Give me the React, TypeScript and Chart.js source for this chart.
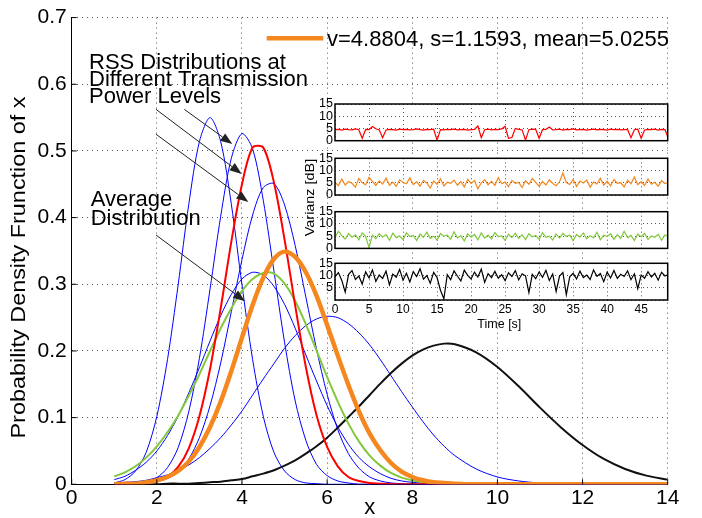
import React, { useEffect, useRef } from "react";
import { Chart, registerables } from "chart.js";

Chart.register(...registerables);

const FONT = '"Liberation Sans", Arial, Helvetica, sans-serif';
Chart.defaults.font.family = FONT;
Chart.defaults.color = "#000";

// ---------- main chart data (x grid and PDF values) ----------
const X_VALUES = [1, 1.25, 1.5, 1.75, 2, 2.25, 2.5, 2.75, 3, 3.25, 3.5, 3.75, 4, 4.25, 4.5, 4.75, 5, 5.25, 5.5, 5.75, 6, 6.25, 6.5, 6.75, 7, 7.25, 7.5, 7.75, 8, 8.25, 8.5, 8.75, 9, 9.5, 10, 10.5, 11, 11.5, 12, 12.5, 13, 13.5, 14];

const PDF_BLUE_1 = [0.002, 0.007, 0.02, 0.048, 0.102, 0.187, 0.299, 0.42, 0.514, 0.55, 0.514, 0.42, 0.299, 0.187, 0.102, 0.048, 0.02, 0.007, 0.002, 0.001, 0, 0, 0, 0, 0, 0, 0, 0, 0, 0, 0, 0, 0, 0, 0, 0, 0, 0, 0, 0, 0, 0, 0];
const PDF_BLUE_2 = [0, 0, 0.001, 0.004, 0.01, 0.025, 0.055, 0.109, 0.189, 0.293, 0.402, 0.489, 0.526, 0.503, 0.426, 0.32, 0.213, 0.125, 0.066, 0.03, 0.013, 0.005, 0.002, 0, 0, 0, 0, 0, 0, 0, 0, 0, 0, 0, 0, 0, 0, 0, 0, 0, 0, 0, 0];
const PDF_RED = [0, 0, 0.001, 0.002, 0.004, 0.011, 0.026, 0.054, 0.102, 0.173, 0.264, 0.364, 0.45, 0.505, 0.505, 0.453, 0.367, 0.268, 0.176, 0.104, 0.056, 0.027, 0.011, 0.005, 0.002, 0.001, 0, 0, 0, 0, 0, 0, 0, 0, 0, 0, 0, 0, 0, 0, 0, 0, 0];
const PDF_BLUE_3 = [0, 0, 0.001, 0.002, 0.004, 0.009, 0.019, 0.038, 0.07, 0.118, 0.182, 0.259, 0.337, 0.404, 0.445, 0.451, 0.419, 0.358, 0.281, 0.203, 0.135, 0.082, 0.046, 0.024, 0.011, 0.005, 0.002, 0.001, 0, 0, 0, 0, 0, 0, 0, 0, 0, 0, 0, 0, 0, 0, 0];
const PDF_BLUE_4 = [0.007, 0.012, 0.021, 0.033, 0.05, 0.073, 0.102, 0.137, 0.175, 0.215, 0.253, 0.285, 0.308, 0.318, 0.314, 0.297, 0.27, 0.234, 0.194, 0.155, 0.118, 0.086, 0.06, 0.04, 0.026, 0.016, 0.009, 0.005, 0.003, 0.002, 0.001, 0, 0, 0, 0, 0, 0, 0, 0, 0, 0, 0, 0];
const PDF_GREEN = [0.012, 0.018, 0.027, 0.04, 0.057, 0.078, 0.103, 0.133, 0.165, 0.2, 0.234, 0.264, 0.29, 0.308, 0.317, 0.316, 0.301, 0.275, 0.24, 0.201, 0.161, 0.124, 0.091, 0.064, 0.043, 0.028, 0.017, 0.01, 0.006, 0.003, 0.002, 0.001, 0, 0, 0, 0, 0, 0, 0, 0, 0, 0, 0];
const PDF_ORANGE = [0, 0.001, 0.001, 0.003, 0.006, 0.011, 0.02, 0.034, 0.056, 0.086, 0.124, 0.17, 0.22, 0.269, 0.31, 0.338, 0.349, 0.341, 0.318, 0.283, 0.239, 0.193, 0.149, 0.109, 0.076, 0.051, 0.032, 0.019, 0.011, 0.006, 0.003, 0.002, 0.001, 0, 0, 0, 0, 0, 0, 0, 0, 0, 0];
const PDF_BLUE_5 = [0.002, 0.003, 0.004, 0.006, 0.01, 0.014, 0.021, 0.029, 0.04, 0.054, 0.07, 0.089, 0.11, 0.134, 0.158, 0.181, 0.204, 0.223, 0.238, 0.248, 0.252, 0.25, 0.241, 0.227, 0.209, 0.187, 0.163, 0.139, 0.116, 0.094, 0.074, 0.057, 0.043, 0.023, 0.011, 0.005, 0.002, 0.001, 0, 0, 0, 0, 0];
const PDF_BLACK = [0, 0, 0, 0, 0, 0.001, 0.001, 0.001, 0.002, 0.003, 0.004, 0.006, 0.008, 0.012, 0.016, 0.021, 0.028, 0.036, 0.046, 0.057, 0.07, 0.085, 0.101, 0.117, 0.134, 0.151, 0.167, 0.181, 0.193, 0.202, 0.208, 0.211, 0.21, 0.198, 0.176, 0.147, 0.115, 0.085, 0.059, 0.038, 0.023, 0.013, 0.007];

const LEGEND_TEXT = "v=4.8804, s=1.1593, mean=5.0255";
const RSS_LABEL = ["RSS Distributions at", "Different Transmission", "Power Levels"];
const AVG_LABEL = ["Average", "Distribution"];
const Y_TITLE = "Probability Density Frunction of x";
const X_TITLE = "x";

// ---------- inset data (variance over time) ----------
const TIME_S = [0, 0.5, 1, 1.5, 2, 2.5, 3, 3.5, 4, 4.5, 5, 5.5, 6, 6.5, 7, 7.5, 8, 8.5, 9, 9.5, 10, 10.5, 11, 11.5, 12, 12.5, 13, 13.5, 14, 14.5, 15, 15.5, 16, 16.5, 17, 17.5, 18, 18.5, 19, 19.5, 20, 20.5, 21, 21.5, 22, 22.5, 23, 23.5, 24, 24.5, 25, 25.5, 26, 26.5, 27, 27.5, 28, 28.5, 29, 29.5, 30, 30.5, 31, 31.5, 32, 32.5, 33, 33.5, 34, 34.5, 35, 35.5, 36, 36.5, 37, 37.5, 38, 38.5, 39, 39.5, 40, 40.5, 41, 41.5, 42, 42.5, 43, 43.5, 44, 44.5, 45, 45.5, 46, 46.5, 47, 47.5, 48, 48.5, 49];

const VAR_RED = [4.5, 4.6, 4.3, 4.7, 4.5, 4.4, 4.8, 4.5, 1.0, 4.6, 4.5, 5.8, 4.9, 4.4, 1.2, 4.4, 4.6, 4.5, 4.3, 4.7, 4.5, 4.6, 4.4, 4.5, 4.8, 4.5, 4.3, 4.6, 4.5, 4.7, 0.2, 4.5, 4.4, 4.6, 4.5, 4.7, 4.4, 4.5, 4.6, 4.3, 4.5, 4.6, 6.0, 1.2, 4.5, 4.7, 4.4, 4.6, 4.5, 4.8, 5.9, 1.0, 1.3, 5.0, 4.6, 4.4, 0.2, 4.5, 4.7, 4.6, 1.0, 4.5, 4.6, 5.6, 4.4, 4.5, 4.7, 4.3, 4.6, 4.5, 4.8, 4.4, 4.5, 4.6, 4.3, 4.5, 4.7, 4.4, 4.6, 4.5, 4.3, 4.7, 4.5, 4.6, 4.4, 4.5, 4.6, 1.2, 4.5, 4.7, 1.0, 4.4, 4.6, 4.5, 4.7, 4.3, 4.6, 4.5, 1.0];
const VAR_ORANGE = [5.2, 3.8, 6.5, 4.1, 5.5, 4.8, 3.2, 6.8, 5.0, 4.2, 7.2, 5.6, 3.9, 5.8, 4.5, 6.9, 4.0, 5.3, 3.5, 6.2, 5.1, 4.6, 7.0, 4.3, 5.4, 3.6, 6.0, 4.9, 2.8, 5.7, 4.4, 6.6, 3.7, 5.2, 4.8, 6.1, 4.0, 5.5, 3.3, 6.4, 4.7, 5.9, 2.5, 5.0, 6.3, 4.2, 5.6, 3.9, 7.1, 4.6, 5.3, 3.4, 6.0, 4.8, 5.1, 3.0, 5.8, 4.4, 6.7, 5.2, 3.6, 5.5, 4.1, 6.2, 4.7, 3.8, 5.4, 9.0, 5.1, 4.3, 6.4, 3.5, 5.7, 4.9, 6.1, 3.2, 5.3, 4.5, 6.8, 4.0, 5.6, 3.7, 6.3, 4.8, 5.0, 3.3, 6.0, 4.6, 7.4, 4.2, 5.5, 3.9, 6.6, 4.4, 5.2, 3.6, 5.9, 4.7, 5.1];
const VAR_GREEN = [4.5, 7.0, 5.2, 3.8, 6.1, 4.6, 5.5, 3.5, 6.3, 4.9, 0.3, 5.4, 3.9, 6.0, 4.7, 5.6, 3.3, 6.2, 4.4, 5.1, 3.6, 6.4, 4.8, 5.3, 3.2, 5.9, 4.5, 6.6, 4.1, 5.0, 3.4, 6.1, 4.9, 5.5, 3.7, 6.8, 4.3, 5.2, 3.0, 6.0, 4.6, 5.7, 3.5, 6.3, 4.2, 5.4, 3.9, 6.5, 4.8, 5.1, 3.3, 5.8, 4.4, 6.2, 4.0, 5.6, 3.6, 6.0, 4.7, 5.3, 3.8, 6.4, 4.5, 5.0, 3.4, 5.9, 4.2, 6.1, 4.9, 5.5, 3.1, 5.7, 4.6, 6.3, 3.9, 5.2, 4.3, 6.6, 3.5, 5.4, 4.8, 6.0, 3.7, 5.6, 4.1, 7.0, 4.4, 5.3, 3.2, 5.9, 4.7, 6.2, 3.6, 5.1, 4.5, 5.8, 3.3, 5.5, 4.9];
const VAR_BLACK = [9.5, 11.2, 8.0, 3.2, 10.5, 12.0, 8.4, 9.8, 6.5, 11.5, 9.0, 12.3, 7.6, 10.2, 8.8, 11.8, 6.2, 10.6, 9.3, 12.5, 8.1, 10.9, 7.4, 11.6, 9.6, 12.8, 8.5, 10.0, 6.8, 11.3, 9.2, 4.0, 0.5, 10.4, 8.3, 11.9, 9.7, 7.8, 12.2, 10.1, 8.6, 11.4, 9.4, 12.6, 7.2, 10.8, 9.1, 11.7, 8.9, 10.3, 7.9, 11.1, 9.6, 12.0, 8.2, 10.7, 9.9, 3.0, 10.5, 8.7, 11.5, 9.3, 12.1, 8.0, 10.6, 3.5, 9.8, 11.2, 2.2, 9.5, 10.9, 8.6, 11.8, 9.2, 10.2, 8.4, 12.3, 9.7, 10.8, 7.5, 11.4, 9.0, 12.1, 8.8, 10.5, 9.6, 11.9, 8.3, 10.7, 4.6, 10.2, 8.9, 11.6, 9.4, 10.9, 8.1, 11.3, 9.8, 10.4];

const INSET_X_TITLE = "Time [s]";
const INSET_Y_TITLE = "Varianz [dB]";

// ---------- styling / layout constants ----------
const BLUE = "#0000ff";
const RED = "#ff0000";
const GREEN = "#82c83c";
const ORANGE = "#f5871f";
const BLACK = "#111111";
const GRID_COLOR = "#555555";

const PANEL_H = 36.7;
const PANELS = [
  { top: 104, values: VAR_RED, color: RED, extra: 12 },
  { top: 158.3, values: VAR_ORANGE, color: ORANGE, extra: 12 },
  { top: 211.7, values: VAR_GREEN, color: GREEN, extra: 12 },
  { top: 263.3, values: VAR_BLACK, color: "#000000", extra: 46 },
].map((p) => {
  const canvasTop = Math.floor(p.top) - 12;
  const padTop = p.top - canvasTop;
  const canvasH = Math.ceil(padTop + PANEL_H + p.extra);
  return { ...p, canvasTop, padTop, canvasH };
});

// annotation anchors in data units of the main chart
const RSS_TEXT_POS = { x: 0.407, ys: [0.6236, 0.5975, 0.5715] };
const AVG_TEXT_POS = { x: 0.446, ys: [0.4175, 0.3887] };
const ARROWS = [
  { x1: 2.645, y1: 0.5624, x2: 3.772, y2: 0.5103 },
  { x1: 1.98, y1: 0.5624, x2: 3.993, y2: 0.4656 },
  { x1: 1.98, y1: 0.5251, x2: 4.149, y2: 0.4234 },
  { x1: 1.98, y1: 0.3739, x2: 4.071, y2: 0.2745 },
];
const LEGEND_POS = { x1: 4.58, x2: 5.91, y: 0.6692, tx: 5.997, ty: 0.6573 };

function curve(values: number[]) {
  return X_VALUES.map((x, i) => ({ x, y: values[i] }));
}
function series(values: number[]) {
  return TIME_S.map((t, i) => ({ x: t, y: values[i] }));
}
function lineDs(label: string, values: number[], color: string, width: number) {
  return {
    label,
    data: curve(values),
    borderColor: color,
    backgroundColor: color,
    borderWidth: width,
    pointRadius: 0,
    fill: false,
    tension: 0.3,
  };
}

function drawArrow(ctx: CanvasRenderingContext2D, x1: number, y1: number, x2: number, y2: number) {
  const ang = Math.atan2(y2 - y1, x2 - x1);
  const L = 12;
  const W = 4.5;
  const bx = x2 - L * Math.cos(ang);
  const by = y2 - L * Math.sin(ang);
  ctx.beginPath();
  ctx.moveTo(x1, y1);
  ctx.lineTo(bx, by);
  ctx.stroke();
  ctx.beginPath();
  ctx.moveTo(x2, y2);
  ctx.lineTo(bx + W * Math.sin(ang), by - W * Math.cos(ang));
  ctx.lineTo(bx - W * Math.sin(ang), by + W * Math.cos(ang));
  ctx.closePath();
  ctx.fill();
}

const mainPlugin = {
  id: "mainDecor",
  beforeDraw(chart: any) {
    const ctx = chart.ctx;
    ctx.save();
    ctx.fillStyle = "#fff";
    ctx.fillRect(0, 0, chart.width, chart.height);
    ctx.restore();
  },
  afterDraw(chart: any) {
    const ctx: CanvasRenderingContext2D = chart.ctx;
    const xs = chart.scales.x;
    const ys = chart.scales.y;
    const area = chart.chartArea;
    const px = (v: number) => xs.getPixelForValue(v);
    const py = (v: number) => ys.getPixelForValue(v);
    ctx.save();
    // inward ticks
    ctx.strokeStyle = "#000";
    ctx.lineWidth = 1;
    xs.ticks.forEach((t: any) => {
      const x = px(t.value);
      ctx.beginPath();
      ctx.moveTo(x, area.bottom);
      ctx.lineTo(x, area.bottom - 5);
      ctx.stroke();
    });
    ys.ticks.forEach((t: any) => {
      const y = py(t.value);
      ctx.beginPath();
      ctx.moveTo(area.left, y);
      ctx.lineTo(area.left + 5, y);
      ctx.stroke();
    });
    // annotation text
    ctx.fillStyle = "#000";
    ctx.font = `22px ${FONT}`;
    ctx.textAlign = "left";
    ctx.textBaseline = "alphabetic";
    RSS_LABEL.forEach((s, i) => ctx.fillText(s, px(RSS_TEXT_POS.x), py(RSS_TEXT_POS.ys[i])));
    AVG_LABEL.forEach((s, i) => ctx.fillText(s, px(AVG_TEXT_POS.x), py(AVG_TEXT_POS.ys[i])));
    // arrows
    ctx.strokeStyle = "#222";
    ctx.fillStyle = "#222";
    ctx.lineWidth = 1;
    ARROWS.forEach((a) => drawArrow(ctx, px(a.x1), py(a.y1), px(a.x2), py(a.y2)));
    // legend
    ctx.strokeStyle = ORANGE;
    ctx.lineWidth = 4.5;
    ctx.beginPath();
    ctx.moveTo(px(LEGEND_POS.x1), py(LEGEND_POS.y));
    ctx.lineTo(px(LEGEND_POS.x2), py(LEGEND_POS.y));
    ctx.stroke();
    ctx.fillStyle = "#000";
    ctx.font = `22px ${FONT}`;
    ctx.fillText(LEGEND_TEXT, px(LEGEND_POS.tx), py(LEGEND_POS.ty));
    // x title
    ctx.textAlign = "center";
    ctx.font = `22px ${FONT}`;
    ctx.fillText(X_TITLE, (area.left + area.right) / 2, 514);
    // y title (stretched along its length like the reference)
    ctx.save();
    ctx.translate(25, 267.5);
    ctx.rotate(-Math.PI / 2);
    ctx.scale(1.2, 1);
    ctx.font = `19.5px ${FONT}`;
    ctx.textAlign = "center";
    ctx.fillText(Y_TITLE, 0, 0);
    ctx.restore();
    // inset y title
    ctx.save();
    ctx.translate(314, 197.5);
    ctx.rotate(-Math.PI / 2);
    ctx.scale(1.2, 1);
    ctx.font = `12px ${FONT}`;
    ctx.textAlign = "center";
    ctx.fillText(INSET_Y_TITLE, 0, 0);
    ctx.restore();
    ctx.restore();
  },
};

function mainConfig(): any {
  return {
    type: "line",
    data: {
      datasets: [
        lineDs("Average fit", PDF_ORANGE, ORANGE, 4.5),
        lineDs("Red", PDF_RED, RED, 2),
        lineDs("Green", PDF_GREEN, GREEN, 2),
        lineDs("Black", PDF_BLACK, BLACK, 2),
        lineDs("Blue 1", PDF_BLUE_1, BLUE, 1),
        lineDs("Blue 2", PDF_BLUE_2, BLUE, 1),
        lineDs("Blue 3", PDF_BLUE_3, BLUE, 1),
        lineDs("Blue 4", PDF_BLUE_4, BLUE, 1),
        lineDs("Blue 5", PDF_BLUE_5, BLUE, 1),
      ],
    },
    options: {
      responsive: false,
      animation: false,
      events: [],
      layout: { padding: { left: 0, top: 14.3, right: 34.3, bottom: 0 } },
      plugins: { legend: { display: false }, tooltip: { enabled: false } },
      scales: {
        x: {
          type: "linear",
          min: 0,
          max: 14,
          afterFit: (s: any) => {
            s.height = 33.7;
          },
          ticks: { stepSize: 2, autoSkip: false, font: { size: 21 }, color: "#000", padding: 1, maxRotation: 0 },
          grid: { color: GRID_COLOR, lineWidth: 1, drawTicks: false },
          border: { display: true, color: "#000", width: 1, dash: [1, 4] },
        },
        y: {
          type: "linear",
          min: 0,
          max: 0.7,
          afterFit: (s: any) => {
            s.width = 71.7;
          },
          ticks: {
            stepSize: 0.1,
            autoSkip: false,
            font: { size: 21 },
            color: "#000",
            padding: 5,
            callback: (v: any) => (Number(v) === 0 ? "0" : Number(v).toFixed(1)),
          },
          grid: { color: GRID_COLOR, lineWidth: 1, drawTicks: false },
          border: { display: true, color: "#000", width: 1, dash: [1, 4] },
        },
      },
    },
    plugins: [mainPlugin],
  };
}

function panelConfig(i: number): any {
  const p = PANELS[i];
  const isLast = i === PANELS.length - 1;
  return {
    type: "line",
    data: {
      datasets: [
        {
          data: series(p.values),
          borderColor: p.color,
          borderWidth: 1.2,
          pointRadius: 0,
          tension: 0,
          fill: false,
        },
      ],
    },
    options: {
      responsive: false,
      animation: false,
      events: [],
      layout: { padding: { left: 0, top: p.padTop, right: 22.3, bottom: 0 } },
      plugins: { legend: { display: false }, tooltip: { enabled: false } },
      scales: {
        x: {
          type: "linear",
          min: 0,
          max: 48.9,
          afterFit: (s: any) => {
            s.height = p.canvasH - p.padTop - PANEL_H;
          },
          ticks: {
            display: isLast,
            stepSize: 5,
            autoSkip: false,
            includeBounds: false,
            maxRotation: 0,
            font: { size: 12 },
            color: "#000",
            padding: 2,
          },
          grid: { color: GRID_COLOR, lineWidth: 1, drawTicks: false },
          border: { display: false, dash: [1, 3] },
        },
        y: {
          type: "linear",
          min: 0,
          max: 15,
          afterFit: (s: any) => {
            s.width = 45;
          },
          ticks: {
            stepSize: 5,
            autoSkip: false,
            font: { size: 12.5, lineHeight: 0.8 },
            color: "#000",
            padding: 2,
            callback: (v: any) => (isLast && Number(v) === 0 ? "" : String(v)),
          },
          grid: { color: GRID_COLOR, lineWidth: 1, drawTicks: false },
          border: { display: false, dash: [1, 3] },
        },
      },
    },
    plugins: [
      {
        id: "panelDecor" + i,
        beforeDraw(chart: any) {
          const a = chart.chartArea;
          const ctx = chart.ctx;
          ctx.save();
          ctx.fillStyle = "#fff";
          ctx.fillRect(a.left, a.top, a.right - a.left, a.bottom - a.top);
          ctx.restore();
        },
        afterDraw(chart: any) {
          const a = chart.chartArea;
          const ctx = chart.ctx;
          ctx.save();
          ctx.strokeStyle = "#000";
          ctx.lineWidth = 1.5;
          ctx.strokeRect(a.left, a.top, a.right - a.left, a.bottom - a.top);
          if (isLast) {
            ctx.fillStyle = "#000";
            ctx.font = `12.5px ${FONT}`;
            ctx.textAlign = "center";
            ctx.textBaseline = "alphabetic";
            ctx.fillText(INSET_X_TITLE, (a.left + a.right) / 2 - 2, a.bottom + 28);
          }
          ctx.restore();
        },
      },
    ],
  };
}

export default function App() {
  const mainRef = useRef<HTMLCanvasElement | null>(null);
  const panelRefs = useRef<(HTMLCanvasElement | null)[]>([]);

  useEffect(() => {
    const charts: Chart[] = [];
    if (mainRef.current) charts.push(new Chart(mainRef.current, mainConfig()));
    PANELS.forEach((_, i) => {
      const c = panelRefs.current[i];
      if (c) charts.push(new Chart(c, panelConfig(i)));
    });
    return () => charts.forEach((c) => c.destroy());
  }, []);

  return (
    <div style={{ position: "absolute", left: 0, top: 0, width: 702, height: 518, background: "#fff" }}>
      <canvas ref={mainRef} width={702} height={518} style={{ position: "absolute", left: 0, top: 0 }} />
      {PANELS.map((p, i) => (
        <canvas
          key={i}
          ref={(el) => {
            panelRefs.current[i] = el;
          }}
          width={400}
          height={p.canvasH}
          style={{ position: "absolute", left: 290, top: p.canvasTop }}
        />
      ))}
    </div>
  );
}
